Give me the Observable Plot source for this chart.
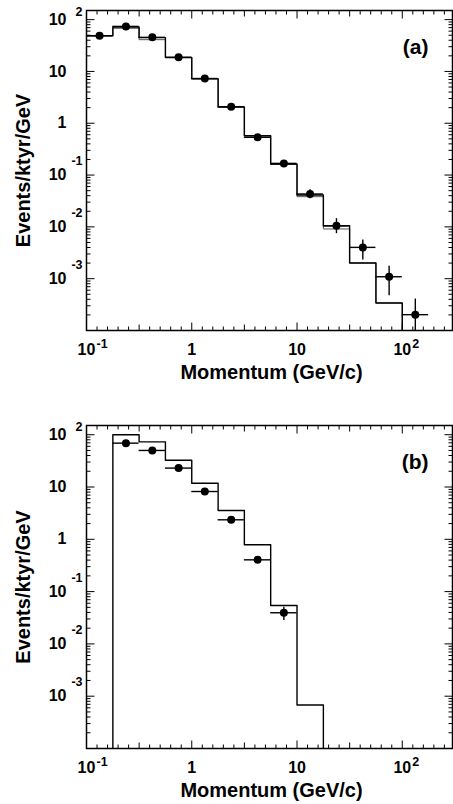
<!DOCTYPE html>
<html>
<head>
<meta charset="utf-8">
<script src="https://cdn.jsdelivr.net/npm/d3@7"></script>
<script src="https://cdn.jsdelivr.net/npm/@observablehq/plot@0.6"></script>
<style>
  html, body { margin: 0; padding: 0; background: #fff; }
  #chart { width: 453px; }
  #chart svg { display: block; }
</style>
</head>
<body>
<div id="chart"></div>
<script>
// ---- shared binning (GeV/c) ----
const binEdges   = [0.1, 0.178, 0.316, 0.562, 1, 1.78, 3.16, 5.62, 10, 17.8, 31.6, 56.2, 100, 178];
const binCenters = [0.133, 0.237, 0.422, 0.75, 1.33, 2.37, 4.22, 7.5, 13.3, 23.7, 42.2, 75, 133];

// ---- panel (a) ----
const aMC     = [49, 72, 45, 18.7, 7.26, 2.07, 0.577, 0.164, 0.0413, 0.0105, 0.00201, 0.00034, 0];
const aMCAlt  = [49, 68, 41, 18.3, 7.1, 2.04, 0.56, 0.16, 0.0383, 0.0091, 0.00201, 0.00034, 0];
const aData   = [49, 74, 45.5, 18.7, 7.3, 2.08, 0.535, 0.168, 0.0431, 0.0105, 0.00402, 0.00109, 0.000202];
const aErrLo  = [null, null, null, null, null, null, null, null, 0.035, 0.0074, 0.0023, 0.00047, 0.00001];
const aErrHi  = [null, null, null, null, null, null, null, null, 0.0522, 0.0144, 0.00558, 0.00173, 0.000405];

// ---- panel (b) ----
const bMC     = [0, 100, 73, 32.5, 11.8, 3.55, 0.785, 0.0542, 0.00068, 0, 0, 0, 0];
const bData   = [null, 69, 50, 23, 8.2, 2.36, 0.405, 0.0394, null, null, null, null, null];
const bErrLo  = [null, null, null, null, null, null, null, 0.028, null, null, null, null, null];
const bErrHi  = [null, null, null, null, null, null, null, 0.0503, null, null, null, null, null];

// ---- axis labels ----
const xTickValues = [0.1, 1, 10, 100];
const xTickBase   = ["10", "1", "10", "10"];
const xTickExp    = ["-1", "", "", "2"];
const yTickValues = [100, 10, 1, 0.1, 0.01, 0.001];
const yTickBase   = ["10", "10", "1", "10", "10", "10"];
const yTickExp    = ["2", "", "", "-1", "-2", "-3"];
const xTitle = "Momentum (GeV/c)";
const yTitle = "Events/ktyr/GeV";

const xDomain = [0.1, 300];
const yDomain = [1e-4, 150];
const FLOOR = 1e-9; // empty bins drawn below the frame (clipped)
const FONT = "'Liberation Sans', Arial, Helvetica, sans-serif";

// tick positions (x: every 0.1 decade, y: log minor ticks)
const xTicksAll = d3.range(-10, 25).map(k => ({k, v: Math.pow(10, k / 10)})).filter(d => d.v <= xDomain[1]);
const xMajor = xTicksAll.filter(d => d.k % 10 === 0).map(d => d.v);
const xHalf  = xTicksAll.filter(d => d.k % 10 !== 0 && d.k % 5 === 0).map(d => d.v);
const xMinor = xTicksAll.filter(d => d.k % 5 !== 0).map(d => d.v);
const yMajor = [], yMinor = [];
for (let e = -4; e <= 2; e++) for (let m = 1; m <= 9; m++) {
  const v = m * Math.pow(10, e);
  if (v < yDomain[0] || v > yDomain[1]) continue;
  (m === 1 ? yMajor : yMinor).push(v);
}

const shapeUp    = {draw(c, l) { c.moveTo(0, 0); c.lineTo(0, -l); }};
const shapeDown  = {draw(c, l) { c.moveTo(0, 0); c.lineTo(0, l); }};
const shapeRight = {draw(c, l) { c.moveTo(0, 0); c.lineTo(l, 0); }};
const shapeLeft  = {draw(c, l) { c.moveTo(0, 0); c.lineTo(-l, 0); }};

function tickMarks() {
  const common = {anchor: "start", stroke: "black", strokeWidth: 1, strokeLinecap: "butt"};
  const marks = [];
  for (const [vals, len] of [[xMajor, 8], [xHalf, 6], [xMinor, 4]]) {
    marks.push(Plot.vector(vals, {...common, x: d => d, frameAnchor: "bottom", length: len, shape: shapeUp}));
    marks.push(Plot.vector(vals, {...common, x: d => d, frameAnchor: "top", length: len, shape: shapeDown}));
  }
  for (const [vals, len] of [[yMajor, 8], [yMinor, 4]]) {
    marks.push(Plot.vector(vals, {...common, y: d => d, frameAnchor: "left", length: len, shape: shapeRight}));
    marks.push(Plot.vector(vals, {...common, y: d => d, frameAnchor: "right", length: len, shape: shapeLeft}));
  }
  return marks;
}

function labelMarks() {
  const bold = {fontWeight: "bold", fill: "black", lineAnchor: "middle"};
  const xi = d3.range(xTickValues.length);
  const yi = d3.range(yTickValues.length);
  return [
    Plot.text(xi, {...bold, x: i => xTickValues[i], text: i => xTickBase[i], frameAnchor: "bottom", dy: 19, fontSize: 16, textAnchor: "middle"}),
    Plot.text(xi.filter(i => xTickExp[i]), {...bold, x: i => xTickValues[i], text: i => xTickExp[i], frameAnchor: "bottom", dy: 13, dx: 10, fontSize: 12.5, textAnchor: "start"}),
    Plot.text(yi, {...bold, y: i => yTickValues[i], text: i => yTickBase[i], frameAnchor: "left", dx: -20, fontSize: 16, textAnchor: "end"}),
    Plot.text(yi.filter(i => yTickExp[i] && yTickExp[i][0] === "-"), {...bold, y: i => yTickValues[i], text: i => yTickExp[i], frameAnchor: "left", dx: -4, dy: -14, fontSize: 12.5, textAnchor: "end"}),
    Plot.text(yi.filter(i => yTickExp[i] && yTickExp[i][0] !== "-"), {...bold, y: i => yTickValues[i], text: i => yTickExp[i], frameAnchor: "left", dx: -4, dy: -8, fontSize: 12.5, textAnchor: "end"}),
    Plot.text([xTitle], {...bold, text: d => d, frameAnchor: "bottom", dy: 42, dx: 2, fontSize: 20, textAnchor: "middle"}),
    Plot.text([yTitle], {...bold, text: d => d, frameAnchor: "left", dx: -63, rotate: -90, fontSize: 20, textAnchor: "middle"})
  ];
}

function stepPoints(values) {
  const pts = values.map((v, i) => ({x: binEdges[i], y: v > 0 ? v : FLOOR}));
  pts.push({x: binEdges[values.length], y: FLOOR});
  return pts;
}

function panel({histograms, data, errLo, errHi, tag, height, marginTop, marginBottom}) {
  const idx = d3.range(data.length).filter(i => data[i] != null);
  const errIdx = idx.filter(i => errLo[i] != null);
  const marks = [];
  for (const h of histograms) {
    marks.push(Plot.line(stepPoints(h.values), {x: "x", y: "y", curve: "step-after", stroke: h.stroke, strokeWidth: h.width, clip: true}));
  }
  marks.push(
    Plot.ruleY(idx, {x1: i => binEdges[i], x2: i => binEdges[i + 1], y: i => data[i], stroke: "black", strokeWidth: 1.4, clip: true}),
    Plot.ruleX(errIdx, {x: i => binCenters[i], y1: i => errLo[i], y2: i => errHi[i], stroke: "black", strokeWidth: 1.4, clip: true}),
    Plot.dot(idx, {x: i => binCenters[i], y: i => data[i], r: 4, fill: "black", stroke: null}),
    Plot.frame({stroke: "black", strokeWidth: 1.5}),
    ...tickMarks(),
    ...labelMarks(),
    Plot.text([tag], {text: d => d, frameAnchor: "top-right", dx: -24, dy: 37, textAnchor: "end", lineAnchor: "middle", fontSize: 21, fontWeight: "bold", fill: "black"})
  );
  return Plot.plot({
    width: 453,
    height,
    marginTop,
    marginBottom,
    marginLeft: 86,
    marginRight: 1,
    x: {type: "log", domain: xDomain, axis: null},
    y: {type: "log", domain: yDomain, axis: null},
    style: {fontFamily: FONT, background: "white", color: "black", overflow: "visible"},
    marks
  });
}

const chart = document.getElementById("chart");
chart.appendChild(panel({
  histograms: [
    {values: aMCAlt, stroke: "#555", width: 1},
    {values: aMC, stroke: "black", width: 1.4}
  ],
  data: aData, errLo: aErrLo, errHi: aErrHi, tag: "(a)",
  height: 400, marginTop: 10, marginBottom: 70
}));
chart.appendChild(panel({
  histograms: [{values: bMC, stroke: "black", width: 1.4}],
  data: bData, errLo: bErrLo, errHi: bErrHi, tag: "(b)",
  height: 404, marginTop: 25, marginBottom: 56
}));
</script>
</body>
</html>
